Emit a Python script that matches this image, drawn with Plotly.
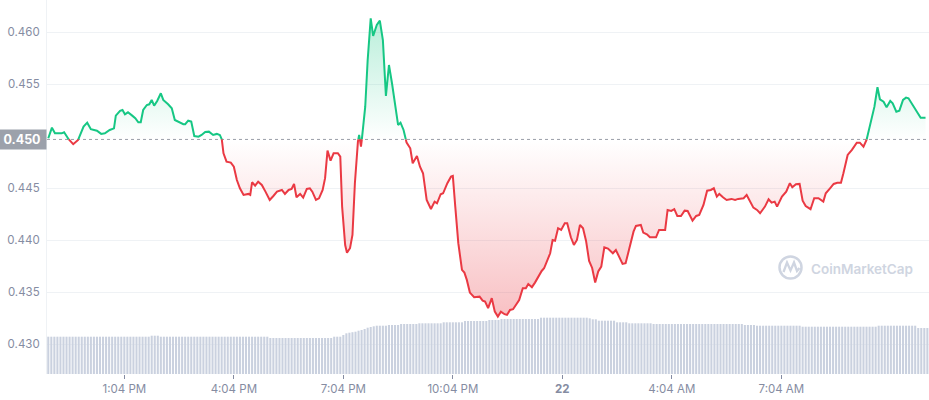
import plotly.graph_objects as go
from datetime import datetime, timedelta

# ---------------- data ----------------
times = [
    "2023-06-21 10:59", "2023-06-21 11:05", "2023-06-21 11:10", "2023-06-21 11:21", "2023-06-21 11:25",
    "2023-06-21 11:31", "2023-06-21 11:40", "2023-06-21 11:48", "2023-06-21 11:57", "2023-06-21 12:03",
    "2023-06-21 12:09", "2023-06-21 12:19", "2023-06-21 12:26", "2023-06-21 12:32", "2023-06-21 12:40",
    "2023-06-21 12:47", "2023-06-21 12:50", "2023-06-21 12:57", "2023-06-21 13:01", "2023-06-21 13:05",
    "2023-06-21 13:10", "2023-06-21 13:17", "2023-06-21 13:22", "2023-06-21 13:27", "2023-06-21 13:31",
    "2023-06-21 13:35", "2023-06-21 13:41", "2023-06-21 13:45", "2023-06-21 13:49", "2023-06-21 13:53",
    "2023-06-21 13:58", "2023-06-21 14:04", "2023-06-21 14:08", "2023-06-21 14:16", "2023-06-21 14:22",
    "2023-06-21 14:27", "2023-06-21 14:33", "2023-06-21 14:41", "2023-06-21 14:44", "2023-06-21 14:49",
    "2023-06-21 14:54", "2023-06-21 14:59", "2023-06-21 15:06", "2023-06-21 15:11", "2023-06-21 15:17",
    "2023-06-21 15:23", "2023-06-21 15:30", "2023-06-21 15:36", "2023-06-21 15:41", "2023-06-21 15:44",
    "2023-06-21 15:47", "2023-06-21 15:52", "2023-06-21 15:59", "2023-06-21 16:04", "2023-06-21 16:09",
    "2023-06-21 16:14", "2023-06-21 16:20", "2023-06-21 16:28", "2023-06-21 16:31", "2023-06-21 16:34",
    "2023-06-21 16:39", "2023-06-21 16:44", "2023-06-21 16:50", "2023-06-21 16:56", "2023-06-21 17:03",
    "2023-06-21 17:09", "2023-06-21 17:15", "2023-06-21 17:23", "2023-06-21 17:28", "2023-06-21 17:34",
    "2023-06-21 17:39", "2023-06-21 17:43", "2023-06-21 17:47", "2023-06-21 17:53", "2023-06-21 17:58",
    "2023-06-21 18:04", "2023-06-21 18:09", "2023-06-21 18:13", "2023-06-21 18:19", "2023-06-21 18:24",
    "2023-06-21 18:30", "2023-06-21 18:34", "2023-06-21 18:38", "2023-06-21 18:43", "2023-06-21 18:48",
    "2023-06-21 18:55", "2023-06-21 18:59", "2023-06-21 19:02", "2023-06-21 19:07", "2023-06-21 19:10",
    "2023-06-21 19:15", "2023-06-21 19:19", "2023-06-21 19:23", "2023-06-21 19:28", "2023-06-21 19:30",
    "2023-06-21 19:33", "2023-06-21 19:35", "2023-06-21 19:40", "2023-06-21 19:44", "2023-06-21 19:49",
    "2023-06-21 19:53", "2023-06-21 19:59", "2023-06-21 20:04", "2023-06-21 20:09", "2023-06-21 20:14",
    "2023-06-21 20:19", "2023-06-21 20:24", "2023-06-21 20:29", "2023-06-21 20:34", "2023-06-21 20:38",
    "2023-06-21 20:43", "2023-06-21 20:48", "2023-06-21 20:54", "2023-06-21 20:58", "2023-06-21 21:05",
    "2023-06-21 21:10", "2023-06-21 21:15", "2023-06-21 21:21", "2023-06-21 21:28", "2023-06-21 21:34",
    "2023-06-21 21:38", "2023-06-21 21:44", "2023-06-21 21:48", "2023-06-21 21:55", "2023-06-21 22:01",
    "2023-06-21 22:04", "2023-06-21 22:08", "2023-06-21 22:13", "2023-06-21 22:19", "2023-06-21 22:23",
    "2023-06-21 22:27", "2023-06-21 22:32", "2023-06-21 22:39", "2023-06-21 22:48", "2023-06-21 22:53",
    "2023-06-21 22:57", "2023-06-21 23:02", "2023-06-21 23:08", "2023-06-21 23:13", "2023-06-21 23:18",
    "2023-06-21 23:23", "2023-06-21 23:29", "2023-06-21 23:33", "2023-06-21 23:38", "2023-06-21 23:43",
    "2023-06-21 23:48", "2023-06-21 23:53", "2023-06-21 23:59", "2023-06-22 00:04", "2023-06-22 00:08",
    "2023-06-22 00:14", "2023-06-22 00:19", "2023-06-22 00:25", "2023-06-22 00:30", "2023-06-22 00:34",
    "2023-06-22 00:40", "2023-06-22 00:44", "2023-06-22 00:48", "2023-06-22 00:52", "2023-06-22 00:57",
    "2023-06-22 01:02", "2023-06-22 01:08", "2023-06-22 01:12", "2023-06-22 01:18", "2023-06-22 01:23",
    "2023-06-22 01:28", "2023-06-22 01:33", "2023-06-22 01:38", "2023-06-22 01:43", "2023-06-22 01:48",
    "2023-06-22 01:53", "2023-06-22 01:58", "2023-06-22 02:03", "2023-06-22 02:08", "2023-06-22 02:13",
    "2023-06-22 02:19", "2023-06-22 02:27", "2023-06-22 02:32", "2023-06-22 02:38", "2023-06-22 02:43",
    "2023-06-22 02:48", "2023-06-22 02:54", "2023-06-22 03:01", "2023-06-22 03:05", "2023-06-22 03:13",
    "2023-06-22 03:17", "2023-06-22 03:23", "2023-06-22 03:28", "2023-06-22 03:38", "2023-06-22 03:43",
    "2023-06-22 03:53", "2023-06-22 03:57", "2023-06-22 04:03", "2023-06-22 04:08", "2023-06-22 04:13",
    "2023-06-22 04:19", "2023-06-22 04:25", "2023-06-22 04:30", "2023-06-22 04:38", "2023-06-22 04:44",
    "2023-06-22 04:49", "2023-06-22 04:56", "2023-06-22 05:02", "2023-06-22 05:08", "2023-06-22 05:13",
    "2023-06-22 05:18", "2023-06-22 05:22", "2023-06-22 05:28", "2023-06-22 05:34", "2023-06-22 05:42",
    "2023-06-22 05:48", "2023-06-22 05:53", "2023-06-22 06:02", "2023-06-22 06:07", "2023-06-22 06:13",
    "2023-06-22 06:18", "2023-06-22 06:24", "2023-06-22 06:29", "2023-06-22 06:37", "2023-06-22 06:43",
    "2023-06-22 06:48", "2023-06-22 06:53", "2023-06-22 06:57", "2023-06-22 07:05", "2023-06-22 07:12",
    "2023-06-22 07:18", "2023-06-22 07:22", "2023-06-22 07:28", "2023-06-22 07:34", "2023-06-22 07:39",
    "2023-06-22 07:44", "2023-06-22 07:52", "2023-06-22 07:58", "2023-06-22 08:05", "2023-06-22 08:13",
    "2023-06-22 08:17", "2023-06-22 08:24", "2023-06-22 08:30", "2023-06-22 08:36", "2023-06-22 08:42",
    "2023-06-22 08:46", "2023-06-22 08:53", "2023-06-22 09:00", "2023-06-22 09:08", "2023-06-22 09:13",
    "2023-06-22 09:19", "2023-06-22 09:24", "2023-06-22 09:31", "2023-06-22 09:37", "2023-06-22 09:42",
    "2023-06-22 09:46", "2023-06-22 09:52", "2023-06-22 09:57", "2023-06-22 10:03", "2023-06-22 10:07",
    "2023-06-22 10:13", "2023-06-22 10:18", "2023-06-22 10:24", "2023-06-22 10:29", "2023-06-22 10:33",
    "2023-06-22 10:41", "2023-06-22 10:47", "2023-06-22 10:53", "2023-06-22 11:01",
]

prices = [
    0.44981, 0.45083, 0.45029, 0.45029, 0.45039, 0.44981, 0.44924, 0.44965, 0.45093, 0.45131,
    0.45068, 0.45054, 0.45023, 0.45029, 0.45061, 0.45077, 0.45199, 0.45244, 0.45253, 0.45212,
    0.45231, 0.45199, 0.45174, 0.45135, 0.45135, 0.45253, 0.45301, 0.45308, 0.45350, 0.45295,
    0.45340, 0.45414, 0.45350, 0.45308, 0.45270, 0.45157, 0.45141, 0.45116, 0.45116, 0.45150,
    0.45141, 0.45003, 0.44997, 0.45013, 0.45042, 0.45045, 0.45013, 0.45023, 0.45013, 0.44981,
    0.44837, 0.44756, 0.44747, 0.44708, 0.44580, 0.44500, 0.44436, 0.44446, 0.44436, 0.44558,
    0.44525, 0.44564, 0.44532, 0.44468, 0.44388, 0.44426, 0.44468, 0.44484, 0.44446, 0.44484,
    0.44494, 0.44542, 0.44414, 0.44446, 0.44410, 0.44494, 0.44500, 0.44468, 0.44388, 0.44404,
    0.44484, 0.44597, 0.44862, 0.44766, 0.44837, 0.44837, 0.44804, 0.44324, 0.43955, 0.43881,
    0.43924, 0.44051, 0.44549, 0.44949, 0.45013, 0.44900, 0.44997, 0.45285, 0.45734, 0.46135,
    0.45965, 0.46071, 0.46112, 0.45926, 0.45388, 0.45686, 0.45510, 0.45318, 0.45109, 0.45131,
    0.45061, 0.44939, 0.44885, 0.44741, 0.44811, 0.44708, 0.44645, 0.44388, 0.44301, 0.44372,
    0.44356, 0.44443, 0.44452, 0.44549, 0.44612, 0.44619, 0.44324, 0.43972, 0.43715, 0.43689,
    0.43619, 0.43497, 0.43452, 0.43458, 0.43420, 0.43410, 0.43347, 0.43443, 0.43314, 0.43266,
    0.43314, 0.43289, 0.43282, 0.43330, 0.43337, 0.43388, 0.43426, 0.43539, 0.43539, 0.43580,
    0.43549, 0.43593, 0.43657, 0.43705, 0.43731, 0.43818, 0.43875, 0.44003, 0.43996, 0.44116,
    0.44100, 0.44164, 0.44164, 0.44029, 0.43955, 0.44003, 0.44148, 0.44116, 0.43994, 0.43801,
    0.43734, 0.43593, 0.43700, 0.43747, 0.43933, 0.43920, 0.43875, 0.43907, 0.43827, 0.43773,
    0.43779, 0.43907, 0.44083, 0.44138, 0.44148, 0.44074, 0.44058, 0.44029, 0.44029, 0.44100,
    0.44100, 0.44292, 0.44282, 0.44299, 0.44234, 0.44234, 0.44285, 0.44282, 0.44189, 0.44234,
    0.44244, 0.44340, 0.44477, 0.44484, 0.44500, 0.44420, 0.44446, 0.44414, 0.44388, 0.44398,
    0.44388, 0.44398, 0.44404, 0.44436, 0.44372, 0.44314, 0.44292, 0.44260, 0.44324, 0.44395,
    0.44362, 0.44372, 0.44324, 0.44420, 0.44468, 0.44549, 0.44510, 0.44539, 0.44542, 0.44381,
    0.44330, 0.44299, 0.44404, 0.44404, 0.44372, 0.44452, 0.44500, 0.44542, 0.44554, 0.44554,
    0.44645, 0.44821, 0.44869, 0.44939, 0.44939, 0.44900, 0.44965, 0.45125, 0.45285, 0.45472,
    0.45356, 0.45333, 0.45279, 0.45340, 0.45318, 0.45237, 0.45247, 0.45350, 0.45372, 0.45366,
    0.45292, 0.45237, 0.45179, 0.45179,
]

base_price = 0.4497          # open price (dotted reference line)
base_label = "0.450"

# 24h volume bars (every 5 minutes), run-length encoded: level, number of bars
vol_levels = [373, 383, 373, 360, 373, 390, 407, 413, 418, 423, 433, 440, 450, 463, 470, 477,
              483, 490, 500, 507, 517, 530, 540, 550, 563, 557, 547, 533, 517, 507, 500, 490,
              483, 473, 483, 460]
vol_runs = [34, 3, 36, 21, 3, 1, 1, 1, 1, 1, 1, 1, 1, 1, 1, 1,
            4, 4, 6, 8, 7, 8, 4, 13, 16, 1, 2, 6, 4, 8, 30, 4,
            15, 25, 13, 4]
vol_start = "2023-06-21 10:59"

x_tickvals = ["2023-06-21 13:04", "2023-06-21 16:04", "2023-06-21 19:04", "2023-06-21 22:04",
              "2023-06-22 01:04", "2023-06-22 04:04", "2023-06-22 07:04"]
x_ticktext = ["1:04 PM", "4:04 PM", "7:04 PM", "10:04 PM", "<b>22</b>", "4:04 AM", "7:04 AM"]
y_tickvals = [0.430, 0.435, 0.440, 0.445, 0.455, 0.460]

x_range = ["2023-06-21 10:56:54", "2023-06-22 11:06:42"]
y_range = [0.42714, 0.46311]

GREEN = "#16c784"
RED = "#ea3943"
GRAY_TXT = "#858ca2"
FONT = "Inter"

# ---------------- prepare ----------------
fmt = "%Y-%m-%d %H:%M"
t = [datetime.strptime(s, fmt) for s in times]

aug_t, aug_p = [t[0]], [prices[0]]
for i in range(1, len(t)):
    p1, p2 = prices[i - 1], prices[i]
    if (p1 - base_price) * (p2 - base_price) < 0:
        f = (base_price - p1) / (p2 - p1)
        aug_t.append(t[i - 1] + (t[i] - t[i - 1]) * f)
        aug_p.append(base_price)
    aug_t.append(t[i])
    aug_p.append(prices[i])

green_line = [p if p >= base_price else None for p in aug_p]
red_line = [p if p <= base_price else None for p in aug_p]
above = [max(p, base_price) for p in aug_p]
below = [min(p, base_price) for p in aug_p]
base_arr = [base_price] * len(aug_p)

vol = []
for lv, n in zip(vol_levels, vol_runs):
    vol += [lv] * n
v0 = datetime.strptime(vol_start, fmt)
vol_t = [v0 + timedelta(minutes=5 * i) for i in range(len(vol))]

# ---------------- figure ----------------
fig = go.Figure()
noline = dict(width=0, color="rgba(0,0,0,0)")

fig.add_trace(go.Scatter(x=aug_t, y=base_arr, mode="lines", line=noline, hoverinfo="skip"))
fig.add_trace(go.Scatter(
    x=aug_t, y=above, mode="lines", line=noline, fill="tonexty", hoverinfo="skip",
    fillgradient=dict(type="vertical", start=base_price, stop=0.4614,
                      colorscale=[[0, "rgba(22,199,132,0.0)"], [1, "rgba(22,199,132,0.30)"]])))
fig.add_trace(go.Scatter(x=aug_t, y=base_arr, mode="lines", line=noline, hoverinfo="skip"))
fig.add_trace(go.Scatter(
    x=aug_t, y=below, mode="lines", line=noline, fill="tonexty", hoverinfo="skip",
    fillgradient=dict(type="vertical", start=0.4326, stop=base_price,
                      colorscale=[[0, "rgba(234,57,67,0.32)"], [1, "rgba(234,57,67,0.0)"]])))

fig.add_trace(go.Scatter(x=aug_t, y=green_line, mode="lines",
                         line=dict(color=GREEN, width=2), connectgaps=False))
fig.add_trace(go.Scatter(x=aug_t, y=red_line, mode="lines",
                         line=dict(color=RED, width=2), connectgaps=False))

fig.add_trace(go.Bar(x=vol_t, y=vol, yaxis="y2", marker=dict(color="#cad1df", line=dict(width=0)),
                     hoverinfo="skip"))

# dotted open-price line
fig.add_shape(type="line", xref="paper", x0=0, x1=1, yref="y", y0=base_price, y1=base_price,
              line=dict(color="#9a9ea8", width=1, dash="dot"), layer="below")

# baseline label box
fig.add_annotation(xref="paper", x=0, xanchor="right", yref="y", y=base_price, yanchor="middle",
                   text="<b>%s</b>" % base_label, showarrow=False, bgcolor="#9ca1ab",
                   font=dict(family=FONT, size=12.5, color="white"),
                   width=44, height=15, borderpad=2, align="center")

# watermark
L, W, H = 47, 882, 374
def px(x):
    return (x - L) / W
def py(y):
    return 1 - y / H

WM = "#cfd5e1"
fig.add_shape(type="circle", xref="paper", yref="paper",
              x0=px(779.5), x1=px(801.5), y0=py(278.5), y1=py(256.5),
              line=dict(color=WM, width=2.5), layer="below")
pts = [(783.5, 272), (787, 262.5), (790.5, 270.5), (794, 262.5), (797, 271), (799.5, 268)]
path = "M " + " L ".join("%.5f,%.5f" % (px(a), py(b)) for a, b in pts)
fig.add_shape(type="path", xref="paper", yref="paper", path=path,
              line=dict(color=WM, width=2.3), layer="below")
fig.add_annotation(xref="paper", yref="paper", x=px(809), y=py(268.5), xanchor="left",
                   yanchor="middle", text="CoinMarketCap", showarrow=False,
                   font=dict(family=FONT, size=13.5, color=WM, weight=600))

fig.update_layout(
    width=929, height=400,
    margin=dict(l=47, r=0, t=0, b=26),
    paper_bgcolor="white", plot_bgcolor="white",
    showlegend=False, bargap=0.32,
    xaxis=dict(type="date", range=x_range, tickmode="array", tickvals=x_tickvals,
               ticktext=x_ticktext, ticks="outside", ticklen=4, tickcolor=GRAY_TXT,
               showgrid=False, zeroline=False, showline=False,
               tickfont=dict(family=FONT, size=11.5, color=GRAY_TXT)),
    yaxis=dict(range=y_range, tickmode="array", tickvals=y_tickvals, tickformat=".3f",
               showgrid=True, gridcolor="#eff2f5", gridwidth=1, zeroline=False,
               showline=True, linecolor="#eff2f5", ticks="", ticklabelstandoff=4,
               tickfont=dict(family=FONT, size=11.5, color=GRAY_TXT)),
    yaxis2=dict(range=[0, 3740], overlaying="y", visible=False),
)

fig.write_html("out.html")
